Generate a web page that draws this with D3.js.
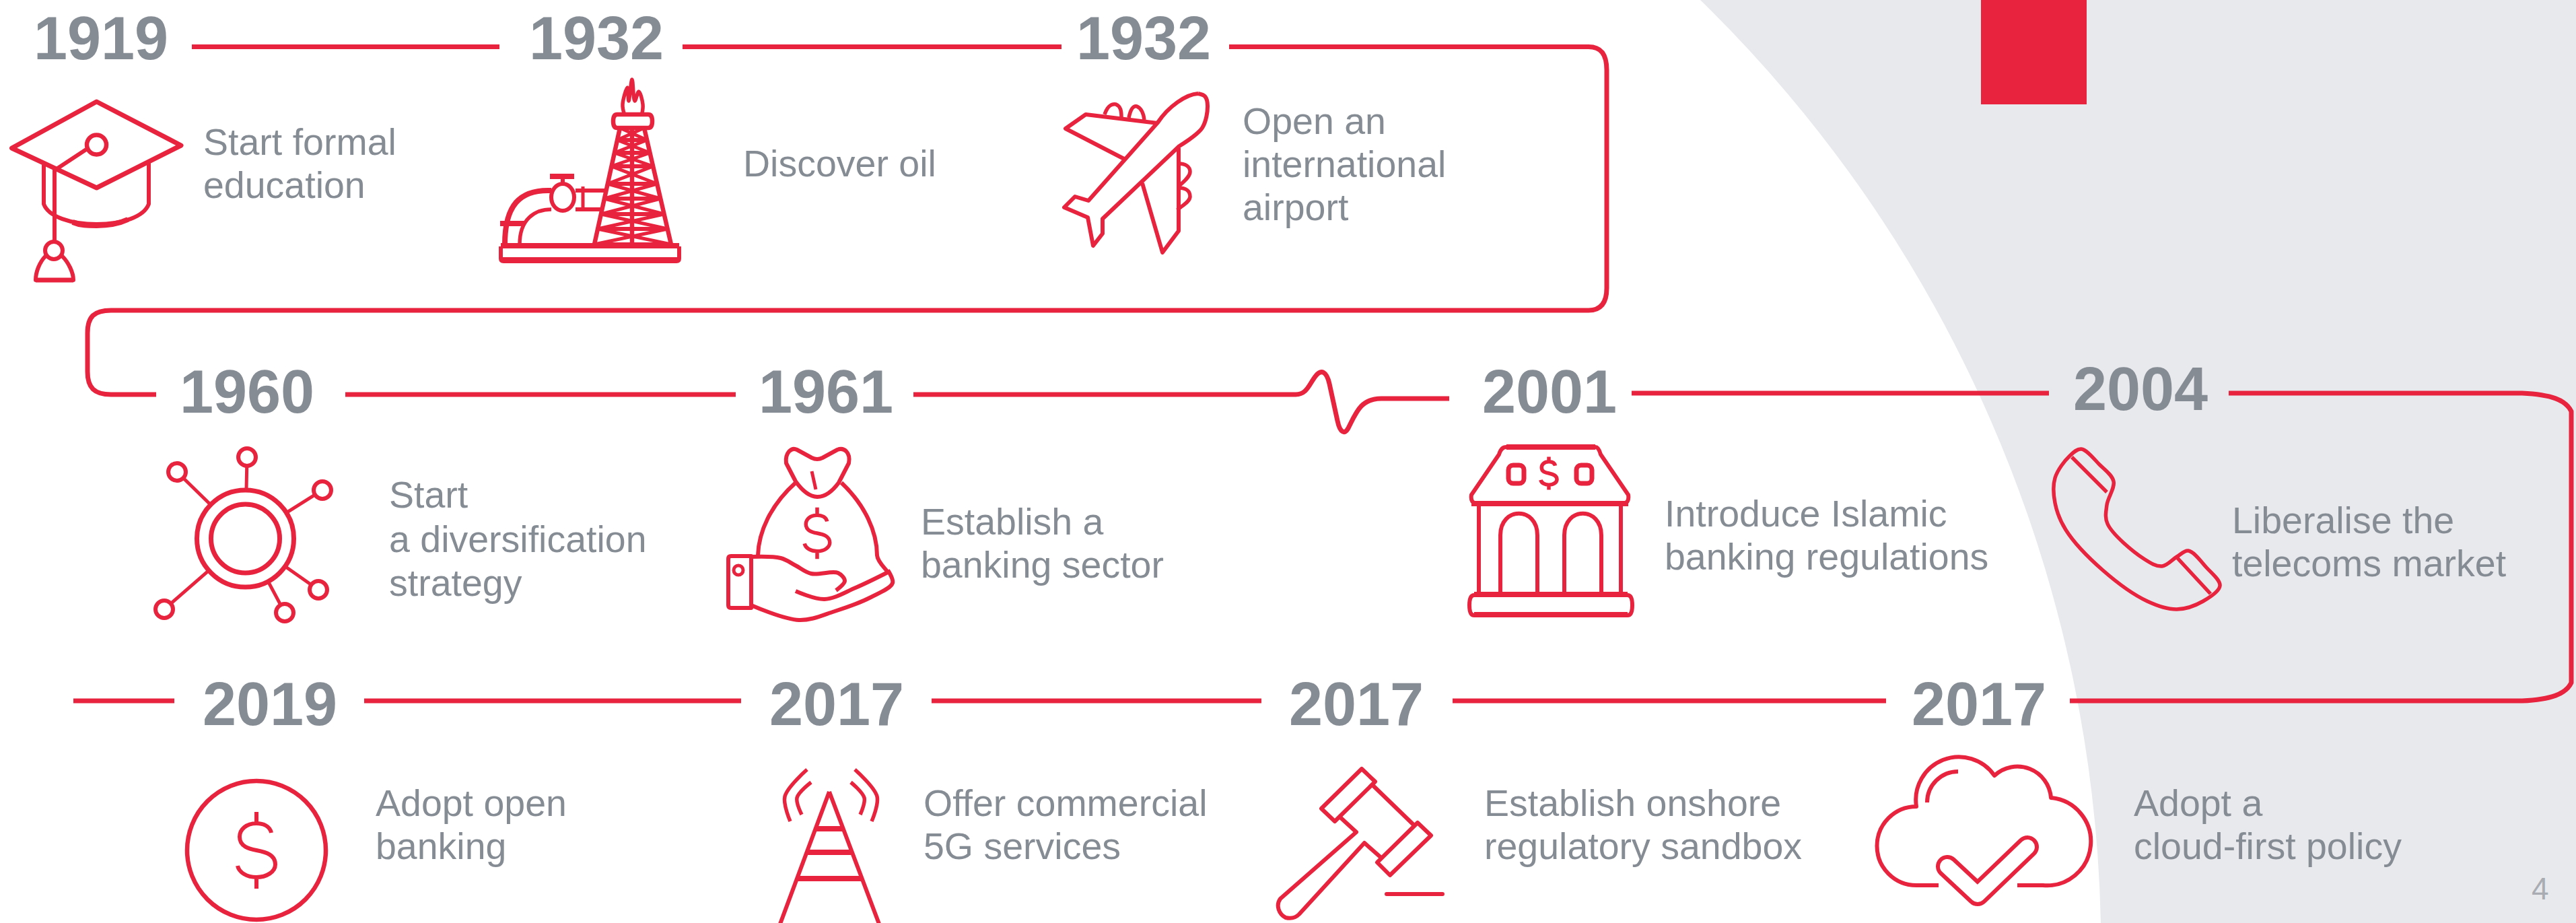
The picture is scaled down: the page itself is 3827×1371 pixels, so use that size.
<!DOCTYPE html>
<html>
<head>
<meta charset="utf-8">
<script src="https://cdn.jsdelivr.net/npm/d3@7"></script>
<style>
  html, body { margin: 0; padding: 0; background: #fff; overflow: hidden; }
  text { font-family: "Liberation Sans", Arial, sans-serif; fill: #868c94; }
  .year { font-size: 90px; font-weight: bold; text-anchor: middle; }
  .label { font-size: 55.5px; }
  .page { font-size: 46px; fill: #a9adb3; }
  .ico, .track { fill: none; stroke-linejoin: round; }
</style>
</head>
<body>
<svg id="chart" width="3827" height="1371"></svg>
<script>
// Milestones, in reading order along the track
var years = ["1919", "1932", "1932", "1960", "1961", "2001", "2004", "2019", "2017", "2017", "2017"];
var labels = [
    ["Start formal", "education"],
    ["Discover oil"],
    ["Open an", "international", "airport"],
    ["Start", "a diversification", "strategy"],
    ["Establish a", "banking sector"],
    ["Introduce Islamic", "banking regulations"],
    ["Liberalise the", "telecoms market"],
    ["Adopt open", "banking"],
    ["Offer commercial", "5G services"],
    ["Establish onshore", "regulatory sandbox"],
    ["Adopt a", "cloud-first policy"]
];
var pageNumber = "4";

// Layout, separate from the content above
var yearX = [150, 886, 1699, 367, 1227, 2302, 3180, 401, 1243, 2015, 2940];
var yearY = [88, 88, 88, 613, 613, 613, 609, 1077, 1077, 1077, 1077];
var labelX = [302, 1104, 1846, 578, 1368, 2473, 3316, 558, 1372, 2205, 3170];
var labelY = [230, 262, 199, 754, 794, 782, 792, 1212, 1212, 1212, 1212];
var labelStep = 64;
var red = "#e8233e";

var svg = d3.select("#chart");

// Grey disc behind the right side
svg.append("path")
    .attr("d", "M2526,0 A1970,1970 0 0 1 3121,1371 L3827,1371 L3827,0 Z")
    .attr("fill", "#e8e9ed");
svg.append("rect").attr("x", 2943).attr("y", 0).attr("width", 157).attr("height", 155).attr("fill", red);

/*--------------------
  TRACK
--------------------*/
var track = [
    "M285,69.5 H742",
    "M1014,69.5 H1577",
    "M1826,69.5 H2360 C2378,69.5 2387,80 2387,104 V428 C2387,450 2378,461 2360,461 H165 C140,461 130,470 130,495 V552 C130,576 140,586 165,586 H232",
    "M513,586 H1093",
    "M1357,586 H1925 C1942,586 1945,570 1955,558 C1963,548 1971,552 1975,570 L1987,625 C1991,644 1998,645 2003,636 C2015,612 2022,592 2052,592 H2153",
    "M2424,584 H3044",
    "M3311,584 H3747 C3790,586 3812,594 3820,611 V1014 C3812,1031 3790,1039 3747,1041 H3075",
    "M2158,1041 H2802",
    "M1384,1041 H1874",
    "M541,1041 H1101",
    "M109,1041 H259"
];
svg.append("g").selectAll("path").data(track).enter().append("path")
    .attr("class", "track")
    .attr("stroke", red)
    .attr("stroke-width", 7)
    .attr("d", function(d){ return d; });

/*--------------------
  TEXT
--------------------*/
svg.append("g").selectAll("text").data(years).enter().append("text")
    .attr("class", "year")
    .attr("x", function(d, i){ return yearX[i]; })
    .attr("y", function(d, i){ return yearY[i]; })
    .text(function(d){ return d; });

labels.forEach(function(lines, i){
    svg.append("g").selectAll("text").data(lines).enter().append("text")
        .attr("class", "label")
        .attr("x", labelX[i])
        .attr("y", function(d, j){ return labelY[i] + j * (i === 3 ? 65.5 : labelStep); })
        .text(function(d){ return d; });
});

svg.append("text").attr("class", "page").attr("x", 3761).attr("y", 1336).text(pageNumber);

/*--------------------
  ICONS
--------------------*/
var ico = svg.append("g");

function draw(d, w){
    return ico.append("path").attr("class", "ico").attr("stroke", red).attr("stroke-width", w || 6).attr("d", d);
}

function ring(cx, cy, r, w){
    return ico.append("circle").attr("class", "ico").attr("stroke", red).attr("cx", cx).attr("cy", cy).attr("r", r).attr("stroke-width", w || 6);
}

var smooth = d3.line().curve(d3.curveCatmullRom.alpha(0.5));
var smoothClosed = d3.line().curve(d3.curveCatmullRomClosed.alpha(0.5));

function dollar(cx, cy, s, w){
    var g = "M22,-26 C20,-36 10,-40 0,-40 C-15,-40 -25,-31 -25,-20 C-25,-5 -10,-2 0,0 C15,3 28,7 28,21 C28,32 15,40 0,40 C-14,40 -26,33 -28,23 M0,-57 V-40 M0,40 V57";
    draw(g, w / s).attr("transform", "translate(" + cx + "," + cy + ") scale(" + s + ")");
}

// Graduation cap
draw("M143.5,151 L269,216 L143.5,279 L17.5,220 Z", 7);
ring(143.5, 215, 14.5, 6.5);
draw("M128,222 L84,251");
draw("M65,245 V303 C72,322 105,333 143.5,333 C182,333 214,322 221,303 V242");
draw("M108,330 C120,335 130,335 143.5,335 C160,335 175,333 190,326", 8);
draw("M81,251 V358");
ring(80, 372, 13);
draw("M68,380 C58,390 53,405 53,416 H109 C109,405 102,390 92,380");
draw("M53,416 H109", 7);

// Oil rig
draw("M744,366 V384 Q744,388 748,388 H1005 Q1009,388 1009,384 V366", 6);
draw("M744,365 H1009", 8);
draw("M744,386 H1009", 8);
draw("M917,170 H963 Q969,170 969,180 Q969,190 963,190 H917 Q911,190 911,180 Q911,170 917,170 Z", 6.5);
draw(smooth([[927,168], [925,155], [932,130], [934,150], [939,118], [943,150], [949,136], [955,155], [954,168]]), 5.5);
var rigLeft = d3.scaleLinear().domain([190, 363]).range([921, 883]);
var rigRight = d3.scaleLinear().domain([190, 363]).range([957, 997]);
var rigBars = [190, 208, 227, 247, 273, 295, 318, 340, 363];
draw("M921,190 L883,363 M957,190 L997,363 M939,190 V363", 6.5);
rigBars.forEach(function(y, i){
    if(i > 0) draw("M" + rigLeft(y) + "," + y + " H" + rigRight(y), 6);
    if(i < rigBars.length - 1){
        var n = rigBars[i + 1];
        draw("M" + rigLeft(y) + "," + y + " L" + rigRight(n) + "," + n + " M" + rigRight(y) + "," + y + " L" + rigLeft(n) + "," + n, 5);
    }
});
draw("M819,283 C772,281 750,305 750,363", 8);
draw("M819,311 C795,311 772,325 772,363", 5.5);
draw("M743,332 H780", 8);
ico.append("ellipse").attr("class", "ico").attr("stroke", red).attr("cx", 836).attr("cy", 293).attr("rx", 17).attr("ry", 20).attr("stroke-width", 6);
draw("M836,273 V262", 6);
draw("M817,262 H853", 8);
draw("M855,283 H901 M855,311 H897", 6);
draw("M866,277 V314", 5);

// Airplane
draw(smooth([[1780,139], [1790,143], [1794,157], [1786,190], [1752,217]]) + " L1638,325 V347 L1624,365 L1616,323 L1581,308 L1597,292 L1617,298 L1720,182 C1736,158 1762,140 1780,139");
draw("M1720,183 L1613,170 L1583,191 L1670,236");
draw("M1751,220 V343 L1727,375 L1697,272");
draw("M1641,170 C1646,156 1652,154 1658,155 C1665,158 1666,165 1666,174 M1677,175 C1680,160 1684,157 1689,158 C1696,161 1699,170 1700,178", 5.5);
draw("M1751,243 C1762,243 1768,248 1768,255 C1768,263 1758,270 1751,277 M1751,279 C1762,279 1768,284 1768,292 C1768,300 1755,306 1749,312", 5.5);

// Network
ring(364.5, 800, 72, 7);
ring(364.5, 800, 51, 7);
var nodes = [[367, 679], [263, 701], [479, 728], [473, 876], [423, 910], [244, 905]];
nodes.forEach(function(n){
    var dx = n[0] - 364.5, dy = n[1] - 800, len = Math.sqrt(dx * dx + dy * dy);
    ring(n[0], n[1], 13, 6);
    draw("M" + (364.5 + dx / len * 72) + "," + (800 + dy / len * 72) + " L" + (n[0] - dx / len * 14) + "," + (n[1] - dy / len * 14), 5);
});

// Money bag
draw("M1182,715 L1168,688 C1166,672 1176,664 1184,668 L1206,680 Q1214,684 1222,680 L1244,668 C1254,664 1264,672 1261,688 L1246,717 Q1214,760 1182,715 Z");
draw("M1206,700 L1212,727", 5);
draw("M1182,717 C1145,750 1127,790 1126,825");
draw("M1250,717 C1285,750 1303,790 1303,825 C1304,835 1316,845 1319,850");
dollar(1214, 792, 0.67, 5.5);
draw("M1086,826 H1116 V903 H1086 Q1082,903 1082,899 V830 Q1082,826 1086,826 Z");
ring(1097, 847, 7, 5);
draw(smooth([[1116,827], [1160,829], [1182,840], [1205,852], [1245,851], [1255,863], [1242,877]]), 6);
draw(smooth([[1182,878], [1225,890], [1271,873], [1319,850]]), 6);
draw(smooth([[1116,899], [1187,921], [1240,908], [1294,887], [1326,866], [1319,847]]), 6);

// Bank
draw("M2238,664 H2370", 8);
draw("M2238,664 Q2230,664 2227,675 L2186,735 Q2184,748 2195,748 H2410 Q2421,748 2419,735 L2378,675 Q2375,664 2370,664");
draw("M2186,748 H2419", 8);
draw("M2197,748 V882 M2408,748 V882");
draw("M2190,884 H2418 Q2425,884 2425,899 Q2425,914 2418,914 H2190 Q2183,914 2183,899 Q2183,884 2190,884 Z");
draw("M2190,883 H2418", 8);
draw("M2190,913 H2418", 8);
draw("M2229,881 V795 C2229,752 2284,752 2284,795 V881");
draw("M2324,881 V795 C2324,752 2379,752 2379,795 V881");
ico.append("rect").attr("class", "ico").attr("stroke", red).attr("x", 2241).attr("y", 691).attr("width", 23).attr("height", 27).attr("rx", 7).attr("stroke-width", 7);
ico.append("rect").attr("class", "ico").attr("stroke", red).attr("x", 2342).attr("y", 691).attr("width", 23).attr("height", 27).attr("rx", 7).attr("stroke-width", 7);
dollar(2301, 703, 0.43, 5.5);

// Telephone
draw(smoothClosed([[3092,667], [3119,690], [3140,715], [3130,750], [3131,778], [3185,830], [3212,841], [3234,827], [3251,818], [3278,843], [3298,870], [3273,893], [3234,905], [3190,893], [3124,847], [3069,787], [3053,747], [3053,710], [3075,677]]), 5.5);
draw("M3078,679 L3130,731 M3234,828 L3284,882", 5.5);

// Coin
ring(381, 1263, 103, 6.5);
dollar(381, 1263, 1, 6);

// Antenna
draw("M1232,1176 L1158,1375 M1232,1176 L1307,1375");
var antenna = d3.scaleLinear().domain([1176, 1371]).range([0, 74]);
[1231, 1266, 1305].forEach(function(y){
    var h = antenna(y);
    draw("M" + (1232 - h) + "," + y + " H" + (1232 + h), 8);
});
draw(smooth([[1199,1143], [1166,1183], [1174,1220]]), 5.5);
draw(smooth([[1205,1162], [1184,1185], [1191,1210]]), 5.5);
draw(smooth([[1270,1143], [1303,1183], [1295,1220]]), 5.5);
draw(smooth([[1264,1162], [1284,1185], [1278,1210]]), 5.5);

// Gavel
draw("M2023,1142 L2043,1161 L1983,1220 L1963,1201 Z", 6);
draw("M2106,1222 L2126,1241 L2065,1300 L2046,1281 Z", 6);
draw("M2040,1167 L2101,1226", 6);
draw("M1990,1213 L2015,1236 L1902,1335 C1895,1345 1900,1358 1910,1363 C1918,1365 1924,1364 1930,1358 L2027,1252 L2053,1275", 6);
draw("M2060,1328 H2143", 6).attr("stroke-linecap", "round");

// Cloud with tick
draw("M2880,1315 H2847 A58,58 0 0 1 2847,1198 A64,64 0 0 1 2963,1152 A50,50 0 0 1 3047,1185 A65,65 0 0 1 3035,1315 H2997");
draw("M2909,1146 A46,46 0 0 0 2863,1192");
var tick = "M2893,1287 L2938,1329 L3012,1258";
draw(tick, 34).attr("stroke-linecap", "round");
draw(tick, 22).attr("stroke-linecap", "round").attr("stroke", "#fff");
</script>
</body>
</html>
